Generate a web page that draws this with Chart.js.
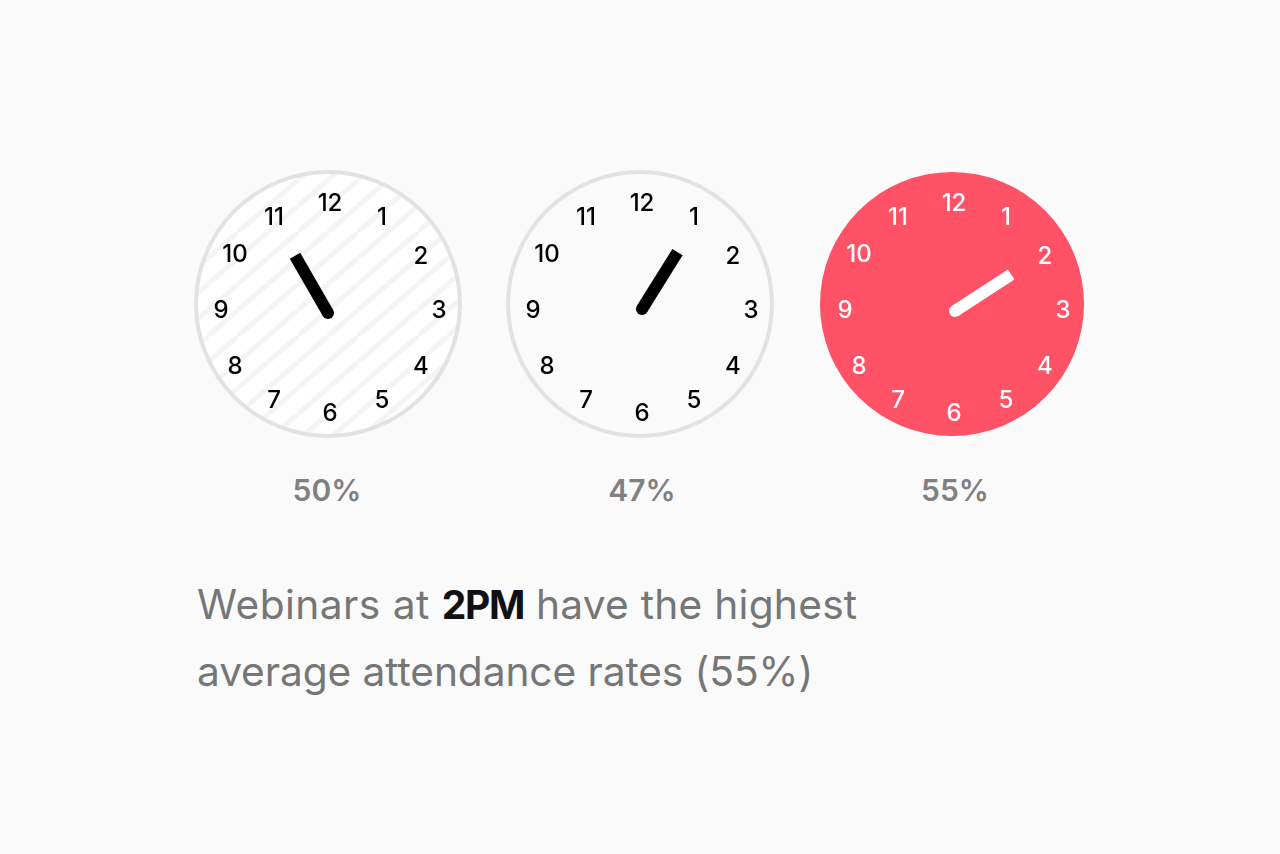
<!DOCTYPE html>
<html>
<head>
<meta charset="utf-8">
<title>Webinar attendance by time</title>
<script src="https://cdn.jsdelivr.net/npm/chart.js@4"></script>
<style>
  html, body { margin: 0; height: 100%; background: #fafafa; overflow: hidden; }
  body { position: relative; width: 1280px; height: 854px; font-family: Inter, sans-serif; }
  canvas { position: absolute; top: 154px; }
  .pct { position: absolute; top: 468px; width: 120px; text-align: center; color: #808080; font-size: 30px; font-weight: 600; line-height: 44px; }
  #caption { position: absolute; left: 197px; top: 571px; margin: 0; color: #767676; font-size: 40.7px; line-height: 67px; white-space: nowrap; letter-spacing: -0.1px; }
  #caption .lead { letter-spacing: 0.45px; }
  #caption .tail { letter-spacing: 0.25px; }
  #caption b { color: #111; font-size: 39px; font-weight: 700; letter-spacing: -1.2px; }
</style>
</head>
<body>
<canvas id="clock0" width="300" height="300"></canvas>
<canvas id="clock1" width="300" height="300"></canvas>
<canvas id="clock2" width="300" height="300"></canvas>
<p id="caption"><span class="lead">Webinars at </span><b>2PM</b><span class="tail"> have the highest</span><br>average attendance rates (55%)</p>
<script>
// values
const attendance = [50, 47, 55];
const handAngles = [330, 32, 57];   // degrees clockwise from 12
const handLengths = [66, 67, 67];
const hourLabels = ['12', '1', '2', '3', '4', '5', '6', '7', '8', '9', '10', '11'];

// layout of each clock, pixels
const centersX = [328, 640, 952];
const pivots = [[0, -9], [2, -5], [3, -7]];
const faceRadius = 132;
const labelRadius = 107;
const labelOffset = [2, -4];
// the hour numbers sit a little off the circle in the original (px, y up)
const labelNudges = [[0, -1], [-1.5, 0], [-1.7, 0], [2, -1], [-1.7, -3.5], [-1.5, 1.7],
  [0, 3], [-2.5, 1.7], [-2.3, -3.5], [-2, -1], [-2.3, 1.5], [-2.5, 0]];

function stripes() {
  const w = 30, h = 26;
  const c = document.createElement('canvas');
  c.width = w;
  c.height = h;
  const g = c.getContext('2d');
  g.fillStyle = '#fefefe';
  g.fillRect(0, 0, w, h);
  g.strokeStyle = '#f4f4f4';
  g.lineWidth = 5;
  [-w, 0, w].forEach(function (d) {
    g.beginPath();
    g.moveTo(d, h);
    g.lineTo(d + w, 0);
    g.stroke();
  });
  return g.createPattern(c, 'repeat');
}

function polar(origin, angle, r) {
  const a = angle * Math.PI / 180;
  return { x: origin[0] + r * Math.sin(a), y: origin[1] + r * Math.cos(a) };
}

function labelPoint(n) {
  const p = polar(labelOffset, n * 30, labelRadius);
  return { x: p.x + labelNudges[n][0], y: p.y + labelNudges[n][1] };
}

// writes the hour labels at the points of the label dataset
const hourText = {
  id: 'hourText',
  afterDatasetsDraw(chart) {
    const meta = chart.getDatasetMeta(2);
    const ctx = chart.ctx;
    ctx.save();
    ctx.font = '500 24px Inter';
    ctx.textAlign = 'center';
    ctx.textBaseline = 'middle';
    ctx.fillStyle = chart.options.plugins.hourText.color;
    meta.data.forEach(function (pt, i) {
      ctx.fillText(hourLabels[i], pt.x, pt.y + 2);
    });
    ctx.restore();
  }
};

function makeClock(i, opts) {
  const pivot = pivots[i];
  const el = document.getElementById('clock' + i);
  el.style.left = (centersX[i] - 150) + 'px';

  new Chart(el, {
    type: 'scatter',
    data: {
      // chart.js paints the first dataset last, so the hand goes first
      datasets: [
        {
          data: [{ x: pivot[0], y: pivot[1] }, polar(pivot, handAngles[i], handLengths[i])],
          showLine: true,
          borderColor: opts.ink,
          borderWidth: 12,
          borderCapStyle: 'butt',
          pointRadius: [6, 0],
          pointBackgroundColor: opts.ink,
          pointBorderWidth: 0
        },
        {
          data: [{ x: 0, y: 0 }],
          clip: false,
          pointRadius: faceRadius,
          pointBackgroundColor: opts.face,
          pointBorderColor: opts.ring,
          pointBorderWidth: opts.ring ? 4 : 0
        },
        {
          data: hourLabels.map(function (h, n) { return labelPoint(n); }),
          pointRadius: 0
        }
      ]
    },
    options: {
      responsive: false,
      animation: false,
      layout: { padding: 0, autoPadding: false },
      scales: {
        x: { display: false, min: -150, max: 150 },
        y: { display: false, min: -150, max: 150 }
      },
      plugins: {
        legend: { display: false },
        tooltip: { enabled: false },
        hourText: { color: opts.ink }
      }
    },
    plugins: [hourText]
  });
}

makeClock(0, { face: stripes(), ring: '#e2e2e2', ink: '#000000' });
makeClock(1, { face: '#fafafa', ring: '#e2e2e2', ink: '#000000' });
makeClock(2, { face: '#ff5266', ring: null, ink: '#ffffff' });

const pctCenters = [327, 642, 955];
attendance.forEach(function (v, i) {
  const d = document.createElement('div');
  d.className = 'pct';
  d.style.left = (pctCenters[i] - 60) + 'px';
  d.textContent = v + '%';
  document.body.appendChild(d);
});
</script>
</body>
</html>
